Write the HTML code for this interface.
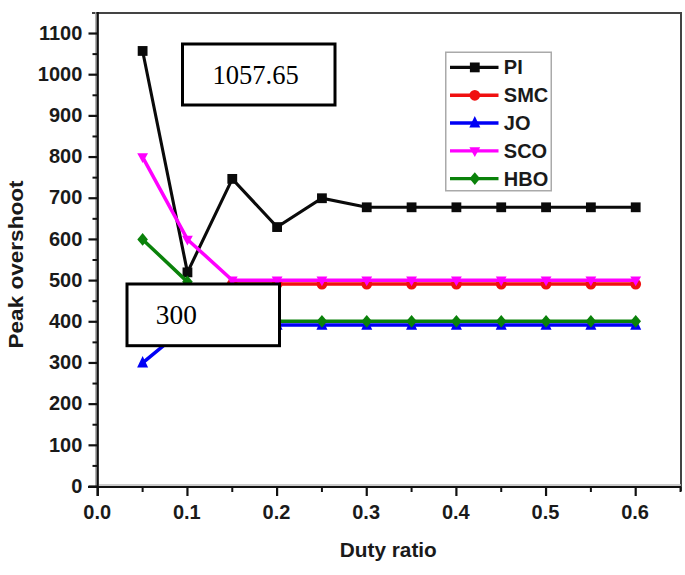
<!DOCTYPE html>
<html><head><meta charset="utf-8"><style>
html,body{margin:0;padding:0;background:#fff;}
svg{display:block;}
text{font-family:"Liberation Sans",sans-serif;font-weight:bold;fill:#1a1a1a;}
.serif{font-family:"Liberation Serif",serif;font-weight:normal;fill:#000;}
</style></head><body>
<svg width="685" height="575" viewBox="0 0 685 575">
<rect width="685" height="575" fill="#fff"/>

<line x1="92" y1="13" x2="681" y2="13" stroke="#444" stroke-width="2"/>
<line x1="681" y1="12" x2="681" y2="491" stroke="#444" stroke-width="2"/>
<line x1="95.8" y1="12" x2="95.8" y2="486" stroke="#aaa" stroke-width="1.4"/>
<line x1="97.7" y1="12" x2="97.7" y2="496" stroke="#111" stroke-width="2.3"/>
<line x1="99" y1="485" x2="681" y2="485" stroke="#bbb" stroke-width="1.6"/>
<line x1="88" y1="487" x2="681" y2="487" stroke="#111" stroke-width="2.2"/>
<line x1="88.5" y1="486.50" x2="97" y2="486.50" stroke="#111" stroke-width="2.2"/>
<text x="82.3" y="492.70" font-size="20" text-anchor="end">0</text>
<line x1="92.5" y1="465.91" x2="97" y2="465.91" stroke="#111" stroke-width="2"/>
<line x1="88.5" y1="445.32" x2="97" y2="445.32" stroke="#111" stroke-width="2.2"/>
<text x="82.3" y="451.52" font-size="20" text-anchor="end">100</text>
<line x1="92.5" y1="424.73" x2="97" y2="424.73" stroke="#111" stroke-width="2"/>
<line x1="88.5" y1="404.14" x2="97" y2="404.14" stroke="#111" stroke-width="2.2"/>
<text x="82.3" y="410.34" font-size="20" text-anchor="end">200</text>
<line x1="92.5" y1="383.55" x2="97" y2="383.55" stroke="#111" stroke-width="2"/>
<line x1="88.5" y1="362.96" x2="97" y2="362.96" stroke="#111" stroke-width="2.2"/>
<text x="82.3" y="369.16" font-size="20" text-anchor="end">300</text>
<line x1="92.5" y1="342.37" x2="97" y2="342.37" stroke="#111" stroke-width="2"/>
<line x1="88.5" y1="321.78" x2="97" y2="321.78" stroke="#111" stroke-width="2.2"/>
<text x="82.3" y="327.98" font-size="20" text-anchor="end">400</text>
<line x1="92.5" y1="301.19" x2="97" y2="301.19" stroke="#111" stroke-width="2"/>
<line x1="88.5" y1="280.60" x2="97" y2="280.60" stroke="#111" stroke-width="2.2"/>
<text x="82.3" y="286.80" font-size="20" text-anchor="end">500</text>
<line x1="92.5" y1="260.01" x2="97" y2="260.01" stroke="#111" stroke-width="2"/>
<line x1="88.5" y1="239.42" x2="97" y2="239.42" stroke="#111" stroke-width="2.2"/>
<text x="82.3" y="245.62" font-size="20" text-anchor="end">600</text>
<line x1="92.5" y1="218.83" x2="97" y2="218.83" stroke="#111" stroke-width="2"/>
<line x1="88.5" y1="198.24" x2="97" y2="198.24" stroke="#111" stroke-width="2.2"/>
<text x="82.3" y="204.44" font-size="20" text-anchor="end">700</text>
<line x1="92.5" y1="177.65" x2="97" y2="177.65" stroke="#111" stroke-width="2"/>
<line x1="88.5" y1="157.06" x2="97" y2="157.06" stroke="#111" stroke-width="2.2"/>
<text x="82.3" y="163.26" font-size="20" text-anchor="end">800</text>
<line x1="92.5" y1="136.47" x2="97" y2="136.47" stroke="#111" stroke-width="2"/>
<line x1="88.5" y1="115.88" x2="97" y2="115.88" stroke="#111" stroke-width="2.2"/>
<text x="82.3" y="122.08" font-size="20" text-anchor="end">900</text>
<line x1="92.5" y1="95.29" x2="97" y2="95.29" stroke="#111" stroke-width="2"/>
<line x1="88.5" y1="74.70" x2="97" y2="74.70" stroke="#111" stroke-width="2.2"/>
<text x="82.3" y="80.90" font-size="20" text-anchor="end">1000</text>
<line x1="92.5" y1="54.11" x2="97" y2="54.11" stroke="#111" stroke-width="2"/>
<line x1="88.5" y1="33.52" x2="97" y2="33.52" stroke="#111" stroke-width="2.2"/>
<text x="82.3" y="39.72" font-size="20" text-anchor="end">1100</text>
<line x1="97.80" y1="487" x2="97.80" y2="496" stroke="#111" stroke-width="2.2"/>
<text x="97.20" y="519" font-size="20" text-anchor="middle">0.0</text>
<line x1="142.62" y1="487" x2="142.62" y2="492" stroke="#111" stroke-width="2"/>
<line x1="187.45" y1="487" x2="187.45" y2="496" stroke="#111" stroke-width="2.2"/>
<text x="186.85" y="519" font-size="20" text-anchor="middle">0.1</text>
<line x1="232.28" y1="487" x2="232.28" y2="492" stroke="#111" stroke-width="2"/>
<line x1="277.10" y1="487" x2="277.10" y2="496" stroke="#111" stroke-width="2.2"/>
<text x="276.50" y="519" font-size="20" text-anchor="middle">0.2</text>
<line x1="321.93" y1="487" x2="321.93" y2="492" stroke="#111" stroke-width="2"/>
<line x1="366.75" y1="487" x2="366.75" y2="496" stroke="#111" stroke-width="2.2"/>
<text x="366.15" y="519" font-size="20" text-anchor="middle">0.3</text>
<line x1="411.58" y1="487" x2="411.58" y2="492" stroke="#111" stroke-width="2"/>
<line x1="456.40" y1="487" x2="456.40" y2="496" stroke="#111" stroke-width="2.2"/>
<text x="455.80" y="519" font-size="20" text-anchor="middle">0.4</text>
<line x1="501.23" y1="487" x2="501.23" y2="492" stroke="#111" stroke-width="2"/>
<line x1="546.05" y1="487" x2="546.05" y2="496" stroke="#111" stroke-width="2.2"/>
<text x="545.45" y="519" font-size="20" text-anchor="middle">0.5</text>
<line x1="590.88" y1="487" x2="590.88" y2="492" stroke="#111" stroke-width="2"/>
<line x1="635.70" y1="487" x2="635.70" y2="496" stroke="#111" stroke-width="2.2"/>
<text x="635.10" y="519" font-size="20" text-anchor="middle">0.6</text>
<line x1="680.52" y1="487" x2="680.52" y2="492" stroke="#111" stroke-width="2"/>
<text x="388.3" y="556.8" font-size="20" text-anchor="middle" textLength="97" lengthAdjust="spacingAndGlyphs">Duty ratio</text>
<text transform="translate(22.6,264.5) rotate(-90)" x="0" y="0" font-size="19.8" text-anchor="middle" textLength="168" lengthAdjust="spacingAndGlyphs">Peak overshoot</text>
<polyline points="142.62,50.96 187.45,272.36 232.28,178.89 277.10,227.07 321.93,198.24 366.75,207.30 411.58,207.30 456.40,207.30 501.23,207.30 546.05,207.30 590.88,207.30 635.70,207.30" fill="none" stroke="#0a0a0a" stroke-width="3.1" stroke-linejoin="miter"/>
<rect x="137.72" y="46.06" width="9.80" height="9.80" fill="#0a0a0a"/>
<rect x="182.55" y="267.46" width="9.80" height="9.80" fill="#0a0a0a"/>
<rect x="227.38" y="173.99" width="9.80" height="9.80" fill="#0a0a0a"/>
<rect x="272.20" y="222.17" width="9.80" height="9.80" fill="#0a0a0a"/>
<rect x="317.03" y="193.34" width="9.80" height="9.80" fill="#0a0a0a"/>
<rect x="361.85" y="202.40" width="9.80" height="9.80" fill="#0a0a0a"/>
<rect x="406.68" y="202.40" width="9.80" height="9.80" fill="#0a0a0a"/>
<rect x="451.50" y="202.40" width="9.80" height="9.80" fill="#0a0a0a"/>
<rect x="496.33" y="202.40" width="9.80" height="9.80" fill="#0a0a0a"/>
<rect x="541.15" y="202.40" width="9.80" height="9.80" fill="#0a0a0a"/>
<rect x="585.98" y="202.40" width="9.80" height="9.80" fill="#0a0a0a"/>
<rect x="630.80" y="202.40" width="9.80" height="9.80" fill="#0a0a0a"/>
<polyline points="142.62,301.19 187.45,292.95 232.28,284.10 277.10,284.10 321.93,284.10 366.75,284.10 411.58,284.10 456.40,284.10 501.23,284.10 546.05,284.10 590.88,284.10 635.70,284.10" fill="none" stroke="#f01010" stroke-width="3.5" stroke-linejoin="miter"/>
<circle cx="142.62" cy="301.19" r="5.40" fill="#f01010"/>
<circle cx="187.45" cy="292.95" r="5.40" fill="#f01010"/>
<circle cx="232.28" cy="284.10" r="5.40" fill="#f01010"/>
<circle cx="277.10" cy="284.10" r="5.40" fill="#f01010"/>
<circle cx="321.93" cy="284.10" r="5.40" fill="#f01010"/>
<circle cx="366.75" cy="284.10" r="5.40" fill="#f01010"/>
<circle cx="411.58" cy="284.10" r="5.40" fill="#f01010"/>
<circle cx="456.40" cy="284.10" r="5.40" fill="#f01010"/>
<circle cx="501.23" cy="284.10" r="5.40" fill="#f01010"/>
<circle cx="546.05" cy="284.10" r="5.40" fill="#f01010"/>
<circle cx="590.88" cy="284.10" r="5.40" fill="#f01010"/>
<circle cx="635.70" cy="284.10" r="5.40" fill="#f01010"/>
<polyline points="142.62,362.96 187.45,325.90 232.28,325.07 277.10,325.07 321.93,325.07 366.75,325.07 411.58,325.07 456.40,325.07 501.23,325.07 546.05,325.07 590.88,325.07 635.70,325.07" fill="none" stroke="#0000f5" stroke-width="3.5" stroke-linejoin="miter"/>
<polygon points="142.62,355.96 148.12,367.56 137.12,367.56" fill="#0000f5"/>
<polygon points="187.45,318.90 192.95,330.50 181.95,330.50" fill="#0000f5"/>
<polygon points="232.28,318.07 237.78,329.67 226.78,329.67" fill="#0000f5"/>
<polygon points="277.10,318.07 282.60,329.67 271.60,329.67" fill="#0000f5"/>
<polygon points="321.93,318.07 327.43,329.67 316.43,329.67" fill="#0000f5"/>
<polygon points="366.75,318.07 372.25,329.67 361.25,329.67" fill="#0000f5"/>
<polygon points="411.58,318.07 417.08,329.67 406.08,329.67" fill="#0000f5"/>
<polygon points="456.40,318.07 461.90,329.67 450.90,329.67" fill="#0000f5"/>
<polygon points="501.23,318.07 506.73,329.67 495.73,329.67" fill="#0000f5"/>
<polygon points="546.05,318.07 551.55,329.67 540.55,329.67" fill="#0000f5"/>
<polygon points="590.88,318.07 596.38,329.67 585.38,329.67" fill="#0000f5"/>
<polygon points="635.70,318.07 641.20,329.67 630.20,329.67" fill="#0000f5"/>
<polyline points="142.62,157.06 187.45,239.42 232.28,280.19 277.10,280.19 321.93,280.19 366.75,280.19 411.58,280.19 456.40,280.19 501.23,280.19 546.05,280.19 590.88,280.19 635.70,280.19" fill="none" stroke="#ff00ff" stroke-width="3.5" stroke-linejoin="miter"/>
<polygon points="142.62,163.06 148.03,153.36 137.22,153.36" fill="#ff00ff"/>
<polygon points="187.45,245.42 192.85,235.72 182.05,235.72" fill="#ff00ff"/>
<polygon points="232.28,286.19 237.68,276.49 226.88,276.49" fill="#ff00ff"/>
<polygon points="277.10,286.19 282.50,276.49 271.70,276.49" fill="#ff00ff"/>
<polygon points="321.93,286.19 327.32,276.49 316.53,276.49" fill="#ff00ff"/>
<polygon points="366.75,286.19 372.15,276.49 361.35,276.49" fill="#ff00ff"/>
<polygon points="411.58,286.19 416.98,276.49 406.18,276.49" fill="#ff00ff"/>
<polygon points="456.40,286.19 461.80,276.49 451.00,276.49" fill="#ff00ff"/>
<polygon points="501.23,286.19 506.62,276.49 495.83,276.49" fill="#ff00ff"/>
<polygon points="546.05,286.19 551.45,276.49 540.65,276.49" fill="#ff00ff"/>
<polygon points="590.88,286.19 596.27,276.49 585.48,276.49" fill="#ff00ff"/>
<polygon points="635.70,286.19 641.10,276.49 630.30,276.49" fill="#ff00ff"/>
<polyline points="142.62,239.42 187.45,281.84 232.28,321.37 277.10,321.37 321.93,321.37 366.75,321.37 411.58,321.37 456.40,321.37 501.23,321.37 546.05,321.37 590.88,321.37 635.70,321.37" fill="none" stroke="#0a820a" stroke-width="3.5" stroke-linejoin="miter"/>
<polygon points="142.62,233.02 147.93,239.42 142.62,245.82 137.32,239.42" fill="#0a820a"/>
<polygon points="187.45,275.44 192.75,281.84 187.45,288.24 182.15,281.84" fill="#0a820a"/>
<polygon points="232.28,314.97 237.58,321.37 232.28,327.77 226.98,321.37" fill="#0a820a"/>
<polygon points="277.10,314.97 282.40,321.37 277.10,327.77 271.80,321.37" fill="#0a820a"/>
<polygon points="321.93,314.97 327.23,321.37 321.93,327.77 316.62,321.37" fill="#0a820a"/>
<polygon points="366.75,314.97 372.05,321.37 366.75,327.77 361.45,321.37" fill="#0a820a"/>
<polygon points="411.58,314.97 416.88,321.37 411.58,327.77 406.28,321.37" fill="#0a820a"/>
<polygon points="456.40,314.97 461.70,321.37 456.40,327.77 451.10,321.37" fill="#0a820a"/>
<polygon points="501.23,314.97 506.53,321.37 501.23,327.77 495.93,321.37" fill="#0a820a"/>
<polygon points="546.05,314.97 551.35,321.37 546.05,327.77 540.75,321.37" fill="#0a820a"/>
<polygon points="590.88,314.97 596.17,321.37 590.88,327.77 585.58,321.37" fill="#0a820a"/>
<polygon points="635.70,314.97 641.00,321.37 635.70,327.77 630.40,321.37" fill="#0a820a"/>
<rect x="445.75" y="52.25" width="105.5" height="138.5" fill="#fff" stroke="#aaa" stroke-width="1.5"/>
<line x1="450" y1="67.4" x2="498.5" y2="67.4" stroke="#0a0a0a" stroke-width="3.4"/>
<rect x="469.90" y="62.50" width="9.80" height="9.80" fill="#0a0a0a"/>
<text x="503.8" y="74.40" font-size="20">PI</text>
<line x1="450" y1="95.3" x2="498.5" y2="95.3" stroke="#f01010" stroke-width="3.4"/>
<circle cx="474.80" cy="95.30" r="5.40" fill="#f01010"/>
<text x="503.8" y="102.30" font-size="20">SMC</text>
<line x1="450" y1="123.0" x2="498.5" y2="123.0" stroke="#0000f5" stroke-width="3.4"/>
<polygon points="474.80,116.00 480.30,127.60 469.30,127.60" fill="#0000f5"/>
<text x="503.8" y="130.00" font-size="20">JO</text>
<line x1="450" y1="150.9" x2="498.5" y2="150.9" stroke="#ff00ff" stroke-width="3.4"/>
<polygon points="474.80,156.90 480.20,147.20 469.40,147.20" fill="#ff00ff"/>
<text x="503.8" y="157.90" font-size="20">SCO</text>
<line x1="450" y1="178.6" x2="498.5" y2="178.6" stroke="#0a820a" stroke-width="3.4"/>
<polygon points="474.80,172.20 480.10,178.60 474.80,185.00 469.50,178.60" fill="#0a820a"/>
<text x="503.8" y="185.60" font-size="20">HBO</text>
<rect x="182.5" y="44" width="152.5" height="61" fill="#fff" stroke="#000" stroke-width="3"/>
<text class="serif" x="255.6" y="84.3" font-size="27.5" text-anchor="middle" textLength="86.3" lengthAdjust="spacingAndGlyphs">1057.65</text>
<rect x="127" y="284" width="152.5" height="61.7" fill="#fff" stroke="#000" stroke-width="3"/>
<text class="serif" x="155.8" y="324.3" font-size="27.5" textLength="41" lengthAdjust="spacingAndGlyphs">300</text>
</svg></body></html>
